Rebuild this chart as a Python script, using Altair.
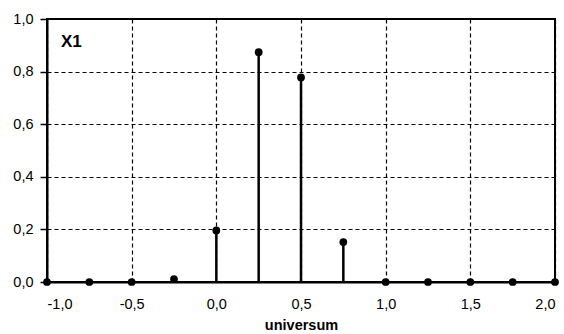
import altair as alt
import pandas as pd

xs = [-1.0, -0.75, -0.5, -0.25, 0.0, 0.25, 0.5, 0.75, 1.0, 1.25, 1.5, 1.75, 2.0]
ys = [0.0, 0.0, 0.0, 0.011, 0.196, 0.874, 0.778, 0.152, 0.0, 0.0, 0.0, 0.0, 0.0]
x_ticks = [-1.0, -0.5, 0.0, 0.5, 1.0, 1.5, 2.0]
y_ticks = [0.0, 0.2, 0.4, 0.6, 0.8, 1.0]
series_label = "X1"
x_title = "universum"

df = pd.DataFrame({"x": xs, "y": ys, "y0": [0.0] * len(xs)})

FONT = "Liberation Sans"
lbl = "replace(replace(format(datum.value, '.1f'), '.', ','), '\u2212', '-')"

xscale = alt.Scale(domain=[-1, 2], nice=False, zero=False)
yscale = alt.Scale(domain=[0, 1], nice=False)

xaxis = alt.Axis(values=x_ticks, labelExpr=lbl, title=x_title, grid=True,
                 gridDash=[4, 3], gridColor="black", gridWidth=1.2,
                 domainColor="black", domainWidth=2, tickSize=0, labelPadding=15,
                 labelFont=FONT, labelFontSize=14.5, labelColor="black",
                 titleFont=FONT, titleFontSize=14.5, titleFontWeight="bold",
                 titleColor="black", titlePadding=8)
yaxis = alt.Axis(values=y_ticks, labelExpr=lbl, title=None, grid=True,
                 gridDash=[4, 3], gridColor="black", gridWidth=1.2,
                 domainColor="black", domainWidth=2, tickSize=7, tickColor="black",
                 tickWidth=1.5, labelPadding=7,
                 labelFont=FONT, labelFontSize=14.5, labelColor="black")

base = alt.Chart(df)
stems = base.mark_rule(color="black", strokeWidth=2.5).encode(
    x=alt.X("x:Q", scale=xscale, axis=xaxis),
    y=alt.Y("y0:Q", scale=yscale, axis=yaxis),
    y2="y:Q",
)
pts = base.mark_point(filled=True, color="black", size=60, opacity=1).encode(
    x=alt.X("x:Q", scale=xscale),
    y=alt.Y("y:Q", scale=yscale),
)
label = alt.Chart(pd.DataFrame({"t": [series_label]})).mark_text(
    font=FONT, fontSize=17, fontWeight="bold", color="black", align="left",
    baseline="middle"
).encode(x=alt.value(14), y=alt.value(23), text="t:N")

chart = alt.layer(stems, pts, label).properties(
    width=508, height=263,
    padding={"left": 47, "top": 19, "right": 9, "bottom": 52},
    autosize=alt.AutoSizeParams(type="none"),
    background="white",
).configure_view(stroke="black", strokeWidth=2)

chart.save("out.html", embed_options={"renderer": "svg", "actions": False})
